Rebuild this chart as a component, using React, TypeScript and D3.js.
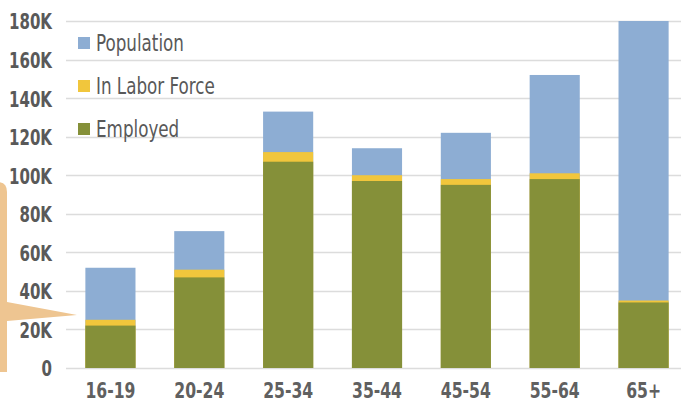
import * as d3 from 'd3';
import React, { useRef, useEffect } from 'react';

const ageGroups = ['16-19', '20-24', '25-34', '35-44', '45-54', '55-64', '65+'];
const population = [52000, 71000, 133000, 114000, 122000, 152000, 180000];
const laborForce = [25000, 51000, 112000, 100000, 98000, 101000, 35000];
const employed = [22000, 47000, 107000, 97000, 95000, 98000, 34000];
const yTicks = [0, 20000, 40000, 60000, 80000, 100000, 120000, 140000, 160000, 180000];
const seriesNames = ['Population', 'In Labor Force', 'Employed'];

const width = 681;
const height = 405;
const font = "'DejaVu Sans Condensed', 'DejaVu Sans', sans-serif";
const colors = { pop: '#8dadd3', lf: '#f1c63c', emp: '#859039' };

function LaborChart() {
    const ref = useRef(null);

    useEffect(() => {
        draw();
    });

    const draw = () => {
        const svg = d3.select(ref.current)
            .attr('width', width)
            .attr('height', height);
        svg.selectAll('*').remove();

        var margin = { top: 21, bottom: 37, left: 66 };

        var x = d3.scaleBand()
            .domain(ageGroups)
            .range([margin.left, 688])
            .paddingInner(0.436)
            .paddingOuter(0.218);

        var y = d3.scaleLinear()
            .domain([0, 180000])
            .range([height - margin.bottom, margin.top]);

        // callout shape on the left edge
        svg.append('path')
            .attr('d', 'M-12,182 L-3,182 Q7,182 7,192 L7,302 L77,315 L7,321 L7,372 L-12,372 Z')
            .attr('fill', '#eec591');

        // grid
        svg.append('g')
            .selectAll('line')
            .data(yTicks)
            .enter()
            .append('line')
                .attr('x1', margin.left)
                .attr('x2', width)
                .attr('y1', d => Math.round(y(d)) + 0.5)
                .attr('y2', d => Math.round(y(d)) + 0.5)
                .attr('stroke', '#dcdcdc')
                .attr('stroke-width', 1.5);

        // text is squeezed sideways to look like the narrow font of the original
        var sy = 0.76;
        var yAxis = d3.axisLeft(y)
            .tickValues(yTicks)
            .tickSize(0)
            .tickPadding(14)
            .tickFormat(d => d === 0 ? '0' : d / 1000 + 'K');

        var yg = svg.append('g')
            .attr('transform', `translate(${margin.left},0)`)
            .call(yAxis);
        yg.select('.domain').remove();
        yg.selectAll('text')
            .attr('x', -14 / sy)
            .attr('transform', `scale(${sy},1)`)
            .style('font-family', font)
            .style('font-size', '22px')
            .style('font-weight', 'bold')
            .attr('fill', '#595959')
            .attr('dy', '0.36em');

        var sx = 0.79;
        var xAxis = d3.axisBottom(x).tickSize(0);
        var xg = svg.append('g')
            .attr('transform', `translate(0,${height - margin.bottom})`)
            .call(xAxis);
        xg.select('.domain').remove();
        xg.selectAll('text')
            .attr('y', 30)
            .attr('dy', 0)
            .attr('transform', `scale(${sx},1)`)
            .style('font-family', font)
            .style('font-size', '22px')
            .style('font-weight', 'bold')
            .attr('fill', '#606060');

        // bars, drawn back to front
        var layers = [
            { values: population, color: colors.pop },
            { values: laborForce, color: colors.lf },
            { values: employed, color: colors.emp },
        ];

        var barg = svg.append('g');
        layers.forEach(layer => {
            barg.append('g')
                .selectAll('rect')
                .data(ageGroups)
                .enter()
                .append('rect')
                    .attr('x', d => x(d))
                    .attr('width', x.bandwidth())
                    .attr('y', (d, i) => y(layer.values[i]))
                    .attr('height', (d, i) => y(0) - y(layer.values[i]))
                    .attr('fill', layer.color);
        });

        // legend
        var sl = 0.81;
        var legendColors = [colors.pop, colors.lf, colors.emp];
        var legend = svg.append('g')
            .selectAll('g')
            .data(seriesNames)
            .enter()
            .append('g')
                .attr('transform', (d, i) => `translate(78,${43 + i * 43})`);

        legend.append('rect')
            .attr('x', 0)
            .attr('y', -6)
            .attr('width', 12)
            .attr('height', 12)
            .attr('fill', (d, i) => legendColors[i]);

        legend.append('text')
            .attr('x', 18 / sl)
            .attr('dy', '0.36em')
            .attr('transform', `scale(${sl},1)`)
            .text(d => d)
            .attr('fill', '#595959')
            .style('font-family', font)
            .style('font-size', '23px');
    };

    return (
        <svg ref={ref} style={{ position: 'absolute', left: 0, top: 0, background: '#fff' }}></svg>
    );
}

export default function App() {
    return <LaborChart />;
}
